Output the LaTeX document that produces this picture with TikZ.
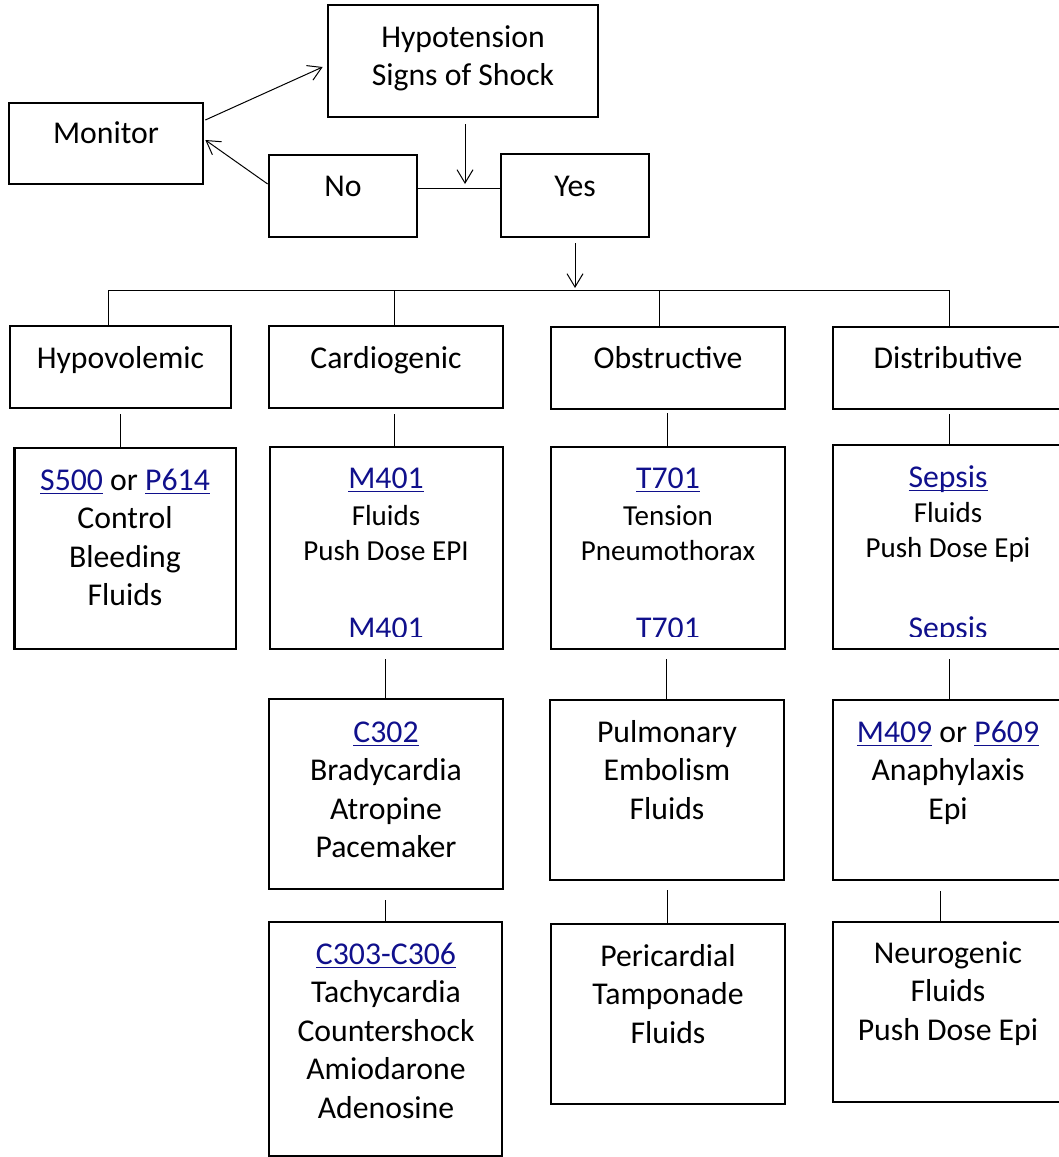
\documentclass[tikz,border=0pt]{standalone}
\usepackage{fontspec}
\setmainfont{Carlito}
\usetikzlibrary{arrows.meta,calc,fit}
\definecolor{linkblue}{RGB}{16,16,140}
\newcommand\bigtxt{\fontsize{23.8}{28.9}\selectfont}
\newcommand\smalltxt{\fontsize{21.75}{26.3}\selectfont}
% centred stack of lines whose baseline is the first line
\newcommand\lns[1]{\begin{tabular}[t]{@{}c@{}}#1\end{tabular}}
% underlined protocol reference
\newsavebox\lnkbox
\newcommand\lnk[1]{\textcolor{linkblue}{\sbox\lnkbox{#1}\rlap{\rule[-3pt]{\wd\lnkbox}{0.9pt}}\usebox\lnkbox}}
\begin{document}
\begin{tikzpicture}[x=0.75pt,y=-0.75pt,
  box/.style={draw, line width=2pt, inner sep=0pt},
  conn/.style={line width=0.75pt},
  arr/.style={conn, -{Straight Barb[length=10pt,width=12pt]}},
  txt/.style={inner sep=0pt, anchor=base, font=\bigtxt},
  sml/.style={txt, font=\smalltxt}]
\useasboundingbox (0,0) rectangle (1058,1157);

% --- top decision part ---
\node[box, fit={(328,5) (598,117)}] (hyp) {};
\node[box, fit={(9,103) (203,184)}] (mon) {};
\node[box, fit={(269,155) (417,237)}] (no) {};
\node[box, fit={(501,154) (649,237)}] (yes) {};
\node[txt] (hypT) at (463,47) {\lns{Hypotension\\Signs of Shock}};
\node[txt] (monT) at (106,143) {Monitor};
\node[txt] (noT) at (343,196) {No};
\node[txt] (yesT) at (575,196) {Yes};

% --- shock categories ---
\node[box, fit={(10,326) (231,408)}] (hypoA) {};
\node[box, fit={(269,326) (503,408)}] (cardA) {};
\node[box, fit={(551,327) (785,409)}] (obstA) {};
\node[box, fit={(833,327) (1063,409)}] (distA) {};
\node[txt] (hypoAT) at (120.5,368) {Hypovolemic};
\node[txt] (cardAT) at (386,368) {Cardiogenic};
\node[txt] (obstAT) at (668,368) {Obstructive};
\node[txt] (distAT) at (948,368) {Distributive};

% --- second row ---
\node[box, fit={(14.5,448) (236,649)}] (hypoB) {};
\node[box, fit={(270,447) (503,649)}] (cardB) {};
\node[box, fit={(551,447) (785,649)}] (obstB) {};
\node[box, fit={(833,445) (1063,649)}] (distB) {};
\node[txt] (hypoBT) at (125,490) {\lns{\lnk{S500} or \lnk{P614}\\Control\\Bleeding\\Fluids}};
\node[txt] (cardBT) at (386,488) {\lnk{M401}};
\node[sml] (cardBS) at (386,525) {\lns{Fluids\\Push Dose EPI}};
\node[txt] (obstBT) at (668,488) {\lnk{T701}};
\node[sml] (obstBS) at (668,525) {\lns{Tension\\Pneumothorax}};
\node[txt] (distBT) at (948,487) {\lnk{Sepsis}};
\node[sml] (distBS) at (948,522) {\lns{Fluids\\Push Dose Epi}};
\begin{scope}
  \clip (270,600) rectangle (1063,636.5);
  \node[txt] (cardBL) at (386,638) {\textcolor{linkblue}{M401}};
  \node[txt] (obstBL) at (668,638) {\textcolor{linkblue}{T701}};
  \node[txt] (distBL) at (948,638) {\textcolor{linkblue}{Sepsis}};
\end{scope}

% --- third row ---
\node[box, fit={(269,699) (503,889)}] (cardC) {};
\node[box, fit={(550,700) (784,880)}] (obstC) {};
\node[box, fit={(833,700) (1063,880)}] (distC) {};
\node[txt] (cardCT) at (386,742) {\lns{\lnk{C302}\\Bradycardia\\Atropine\\Pacemaker}};
\node[txt] (obstCT) at (667,742) {\lns{Pulmonary\\Embolism\\Fluids}};
\node[txt] (distCT) at (948,742) {\lns{\lnk{M409} or \lnk{P609}\\Anaphylaxis\\Epi}};

% --- fourth row ---
\node[box, fit={(269,922) (502,1156)}] (cardD) {};
\node[box, fit={(551,924) (785,1104)}] (obstD) {};
\node[box, fit={(833,922) (1063,1102)}] (distD) {};
\node[txt] (cardDT) at (386,964) {\lns{\lnk{C303-C306}\\Tachycardia\\Countershock\\Amiodarone\\Adenosine}};
\node[txt] (obstDT) at (668,966) {\lns{Pericardial\\Tamponade\\Fluids}};
\node[txt] (distDT) at (948,963) {\lns{Neurogenic\\Fluids\\Push Dose Epi}};

% --- connectors, top part ---
\coordinate (join) at (465,188);
\draw[conn] (no.east |- join) -- (yes.west |- join);
\draw[arr] ($(hyp.south -| join)+(0,6)$) -- ($(join)+(0,-4)$);
\draw[arr] ($(mon.east)+(1,-23.5)$) -- ($(hyp.west)+(-4,6)$);
\draw[arr] ($(no.west)+(0,-12)$) -- ($(mon.east)+(1,-3.5)$);

% --- distribution bus ---
\coordinate (busL) at (108,290);
\coordinate (busR) at (949,290);
\coordinate (dropB) at (394,290);
\coordinate (dropC) at (659,290);
\draw[arr] ($(yes.south)+(0,5)$) -- ($(yes.south |- busL)+(0,-2)$);
\draw[conn] (busL) -- (busR);
\draw[conn] (busL) -- (busL |- hypoA.north);
\draw[conn] (dropB) -- (dropB |- cardA.north);
\draw[conn] (dropC) -- (dropC |- obstA.north);
\draw[conn] (busR) -- (busR |- distA.north);

% --- vertical links between rows ---
\coordinate (xa) at (120.5,0);
\coordinate (xb) at (394,0);
\coordinate (xc) at (667,0);
\coordinate (xd) at (949,0);
\coordinate (xb2) at (385,0);
\coordinate (xc2) at (666,0);
\coordinate (xd2) at (940,0);
\draw[conn] ($(hypoA.south -| xa)+(0,5)$) -- (hypoB.north -| xa);
\draw[conn] ($(cardA.south -| xb)+(0,5)$) -- (cardB.north -| xb);
\draw[conn] ($(obstA.south -| xc)+(0,3)$) -- (obstB.north -| xc);
\draw[conn] ($(distA.south -| xd)+(0,4)$) -- (distB.north -| xd);
\draw[conn] ($(cardB.south -| xb2)+(0,9)$) -- (cardC.north -| xb2);
\draw[conn] ($(obstB.south -| xc2)+(0,9)$) -- (obstC.north -| xc2);
\draw[conn] ($(distB.south -| xd)+(0,9)$) -- (distC.north -| xd);
\draw[conn] ($(cardC.south -| xb2)+(0,10)$) -- (cardD.north -| xb2);
\draw[conn] ($(obstC.south -| xc)+(0,9)$) -- (obstD.north -| xc);
\draw[conn] ($(distC.south -| xd2)+(0,10)$) -- (distD.north -| xd2);
\end{tikzpicture}
\end{document}
